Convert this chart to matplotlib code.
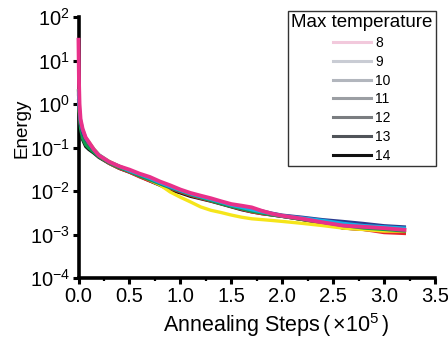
import matplotlib
matplotlib.use("Agg")
import matplotlib.pyplot as plt
from matplotlib.lines import Line2D
from matplotlib.ticker import MultipleLocator, LogLocator, NullLocator

plt.rcParams['font.family'] = ['Liberation Sans', 'DejaVu Sans']
plt.rcParams['mathtext.fontset'] = 'custom'
plt.rcParams['mathtext.rm'] = 'Liberation Sans'
plt.rcParams['mathtext.it'] = 'Liberation Sans'

steps = [0, 0.005, 0.01, 0.02, 0.04, 0.07, 0.1, 0.15, 0.2, 0.3, 0.4, 0.5, 0.6, 0.7, 0.8,
         0.9, 1.0, 1.1, 1.2, 1.3, 1.4, 1.5, 1.6, 1.7, 1.8, 1.9, 2.0, 2.2, 2.4, 2.6, 2.8, 3.0, 3.2]

black = [1.0, 0.6, 0.42, 0.25, 0.15, 0.105, 0.09, 0.074, 0.059, 0.043, 0.033, 0.027, 0.0215, 0.017, 0.0135,
         0.0105, 0.009, 0.0075, 0.0066, 0.0058, 0.005, 0.0043, 0.0037, 0.0033, 0.003, 0.0028, 0.0026,
         0.0022, 0.0018, 0.0014, 0.0013, 0.0012, 0.0011]
red = [1.5, 0.8, 0.5, 0.32, 0.2, 0.14, 0.112, 0.082, 0.062, 0.043, 0.033, 0.027, 0.021, 0.017, 0.014,
       0.0115, 0.0095, 0.0079, 0.0068, 0.0059, 0.0051, 0.0044, 0.0038, 0.0033, 0.003, 0.0028, 0.0026,
       0.0022, 0.0018, 0.0014, 0.0013, 0.0011, 0.00105]
yellow = [2.0, 1.0, 0.65, 0.4, 0.24, 0.16, 0.135, 0.093, 0.068, 0.048, 0.037, 0.029, 0.023, 0.018, 0.0138,
          0.0095, 0.0072, 0.0056, 0.0043, 0.0036, 0.0032, 0.0028, 0.0025, 0.0023, 0.0022, 0.0021, 0.002,
          0.0018, 0.0016, 0.0014, 0.0013, 0.0012, 0.0012]
green = [1.2, 0.7, 0.45, 0.27, 0.16, 0.115, 0.097, 0.077, 0.061, 0.044, 0.034, 0.028, 0.022, 0.018, 0.0145,
         0.0118, 0.0098, 0.0082, 0.007, 0.006, 0.0051, 0.0044, 0.0039, 0.0034, 0.0031, 0.0028, 0.0026,
         0.0022, 0.0019, 0.0016, 0.0014, 0.0013, 0.0012]
cyan = [2.0, 1.1, 0.7, 0.42, 0.26, 0.17, 0.13, 0.091, 0.068, 0.047, 0.037, 0.029, 0.024, 0.0195, 0.0155,
        0.0125, 0.0103, 0.0086, 0.0074, 0.0064, 0.0055, 0.0047, 0.0042, 0.0037, 0.0033, 0.003, 0.0027,
        0.0024, 0.0021, 0.0018, 0.0016, 0.0015, 0.0014]
blue = [1.6, 0.95, 0.6, 0.36, 0.22, 0.155, 0.125, 0.088, 0.066, 0.047, 0.037, 0.03, 0.024, 0.0195, 0.0153,
        0.0122, 0.0102, 0.0087, 0.0075, 0.0065, 0.0056, 0.0049, 0.0044, 0.004, 0.0035, 0.0031, 0.0028,
        0.0025, 0.0022, 0.002, 0.0018, 0.0016, 0.0015]
pink = [30.0, 3.0, 1.0, 0.45, 0.27, 0.17, 0.135, 0.09, 0.066, 0.047, 0.037, 0.031, 0.025, 0.021, 0.0165,
        0.0135, 0.0108, 0.009, 0.0078, 0.0068, 0.0058, 0.005, 0.0046, 0.0042, 0.0035, 0.003, 0.0027,
        0.0023, 0.0019, 0.0016, 0.0015, 0.0014, 0.00128]

series = [(black, '#111111', 2.2), (red, '#e8262a', 2.2), (yellow, '#f5e51a', 2.4), (green, '#0e9e50', 2.2),
          (blue, '#2b3a8f', 2.2), (cyan, '#12b0e6', 2.4), (pink, '#e8318a', 2.8)]

legend_labels = ['8', '9', '10', '11', '12', '13', '14']
legend_colors = ['#f2c9dc', '#c9ccd4', '#b2b6bd', '#9b9ea3', '#7a7d80', '#505459', '#111111']

fig = plt.figure(figsize=(4.48, 3.41), dpi=100)
ax = fig.add_axes([78.5 / 448, 63 / 341, (435 - 78.5) / 448, (278 - 17) / 341])

for vals, col, lw in series:
    ax.plot(steps, vals, color=col, lw=lw, solid_joinstyle='round', zorder=3, clip_on=False)

ax.set_yscale('log')
ax.set_ylim(1e-4, 1e2)
ax.set_xlim(0, 3.5)
ax.yaxis.set_major_locator(LogLocator(base=10, numticks=10))
ax.yaxis.set_minor_locator(NullLocator())
ax.set_xticks([0, 0.5, 1.0, 1.5, 2.0, 2.5, 3.0, 3.5])
ax.set_xticklabels(['0.0', '0.5', '1.0', '1.5', '2.0', '2.5', '3.0', '3.5'])
ax.xaxis.set_minor_locator(MultipleLocator(0.25))

for s in ['top', 'right']:
    ax.spines[s].set_visible(False)
for s in ['left', 'bottom']:
    ax.spines[s].set_linewidth(2.6)

ax.tick_params(axis='both', which='major', direction='out', length=4.5, width=2.2, labelsize=14.5, pad=1.5)
ax.tick_params(axis='x', which='major', pad=2)
ax.tick_params(axis='x', which='minor', direction='out', length=2.5, width=1.6)

ax.set_ylabel('Energy', fontsize=13.5)
ax.yaxis.set_label_coords(-0.135, 0.575)
ax.set_xlabel('Annealing Steps$\\,$($\\,$×10$^{5}$$\\,$)', fontsize=15.5)
ax.xaxis.set_label_coords(0.555, -0.125)

handles = [Line2D([0], [0], color=c, lw=2.2) for c in legend_colors]
leg = ax.legend(handles, legend_labels, title='Max temperature', loc='upper right',
                bbox_to_anchor=(1.003, 1.023), fontsize=10, title_fontsize=13.5,
                frameon=True, fancybox=False, handlelength=2.7, handletextpad=0.3,
                labelspacing=0.34, borderpad=0.25, borderaxespad=0)
leg.get_frame().set_edgecolor('black')
leg.get_frame().set_linewidth(1.0)
leg.set_zorder(5)

fig.savefig('out.png', dpi=100)
